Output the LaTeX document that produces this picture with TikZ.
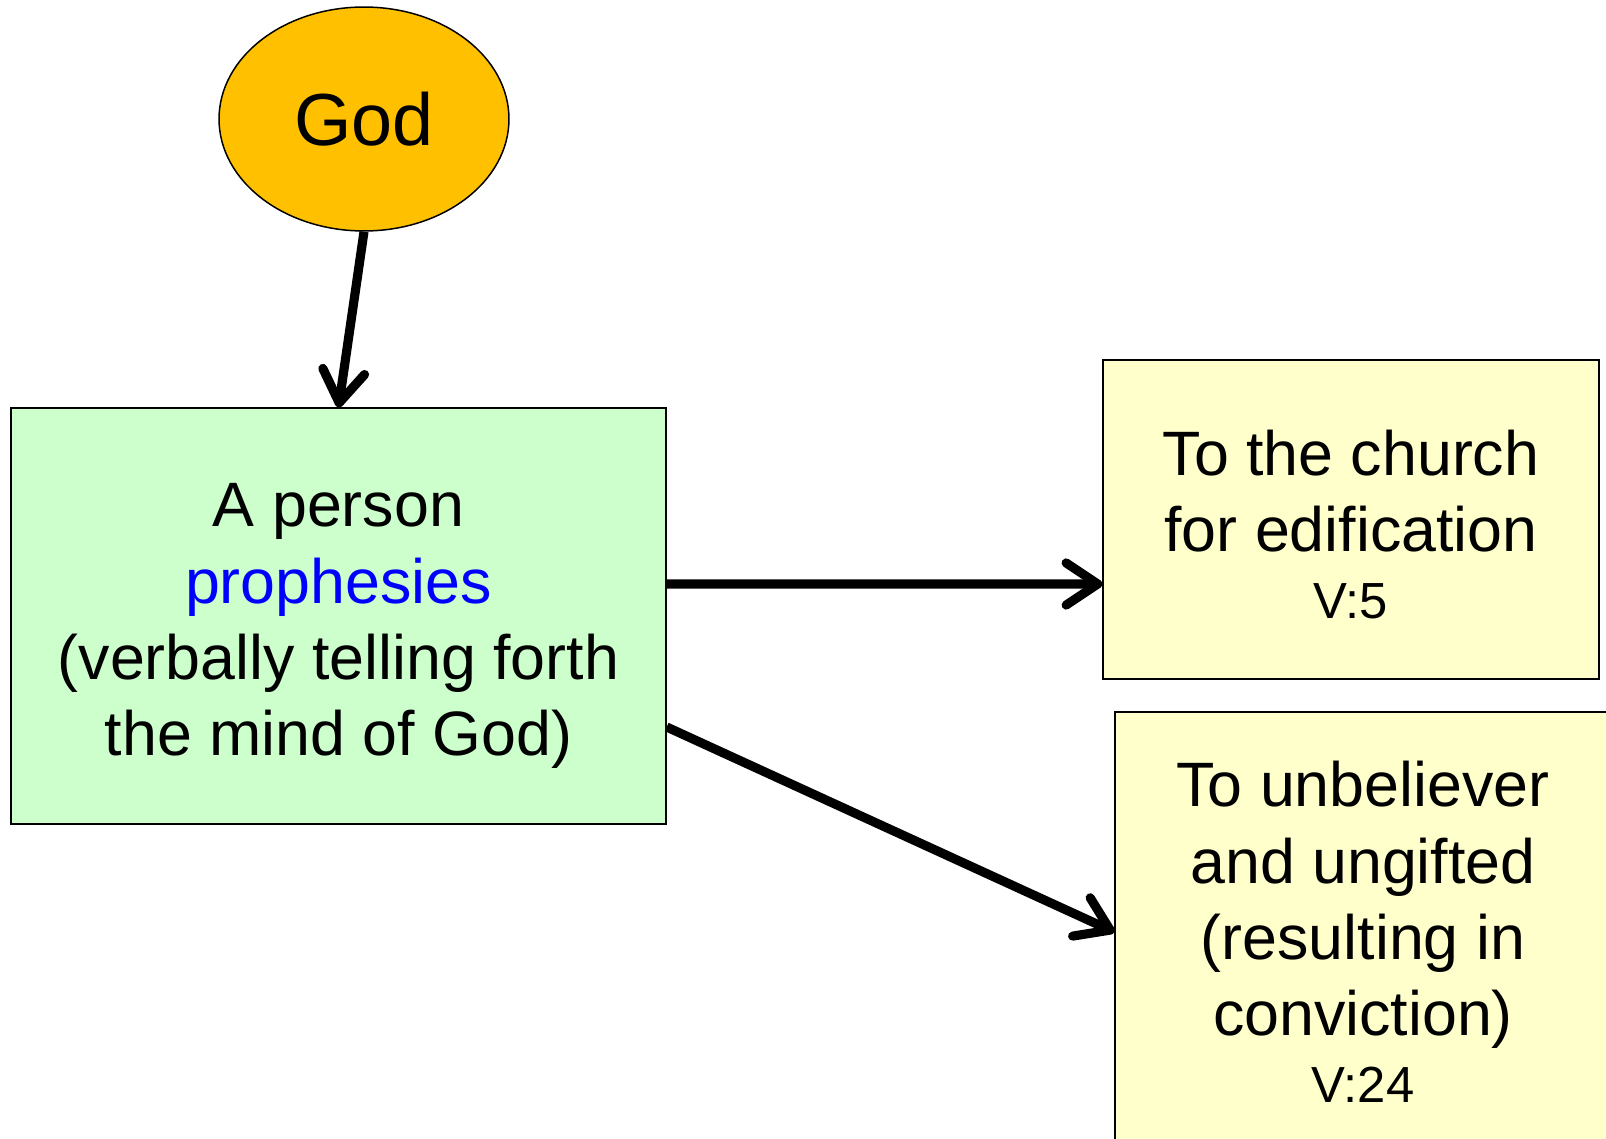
\documentclass[tikz,border=0pt]{standalone}
\usepackage{fontspec}
\setmainfont{Liberation Sans}
\usetikzlibrary{arrows.meta,shapes.geometric}
\definecolor{godorange}{HTML}{FFC000}
\definecolor{personfill}{HTML}{CCFFCC}
\definecolor{targetfill}{HTML}{FFFFCC}
\begin{document}
\begin{tikzpicture}[x=0.02cm, y=-0.02cm,
        box/.style={draw, line width=0.85pt, inner sep=0pt, align=center, font=\fontsize{35.7}{43.4}\selectfont},
        arr/.style={line width=5.2pt, -{Straight Barb[length=18pt, width=24pt, round]}}]
        \clip (0, 0) rectangle (1606, 1139);
        \node[ellipse, draw, line width=0.85pt, fill=godorange, inner sep=0pt, minimum width=5.8cm, minimum height=4.48cm, font=\fontsize{42}{50}\selectfont] (god) at (364, 119) {God};
        \node[box, fill=personfill, minimum width=13.1cm, minimum height=8.32cm] (person) at (338.5, 616) {\rule{0pt}{36pt}A person\\\textcolor{blue}{prophesies}\\(verbally telling forth\\the mind of God)};
        \node[box, fill=targetfill, minimum width=9.92cm, minimum height=6.38cm] (church) at (1351, 519.5) {\rule{0pt}{31.6pt}To the church\\for edification\\[-5.4pt]{\fontsize{28.9}{34}\selectfont V:5}};
        \node[box, fill=targetfill, minimum width=9.92cm, minimum height=8.8cm] (unbeliever) at (1363, 932) {To unbeliever\\and ungifted\\(resulting in\\conviction)\\[-5.4pt]{\fontsize{28.9}{34}\selectfont V:24}};
        \draw[arr] (god.south) -- (person.north);
        \draw[arr] ([yshift=0.64cm]person.east) -- ([yshift=-1.29cm]church.west);
        \draw[arr] ([yshift=-2.22cm]person.east) -- (unbeliever.west);
    \end{tikzpicture}
\end{document}
